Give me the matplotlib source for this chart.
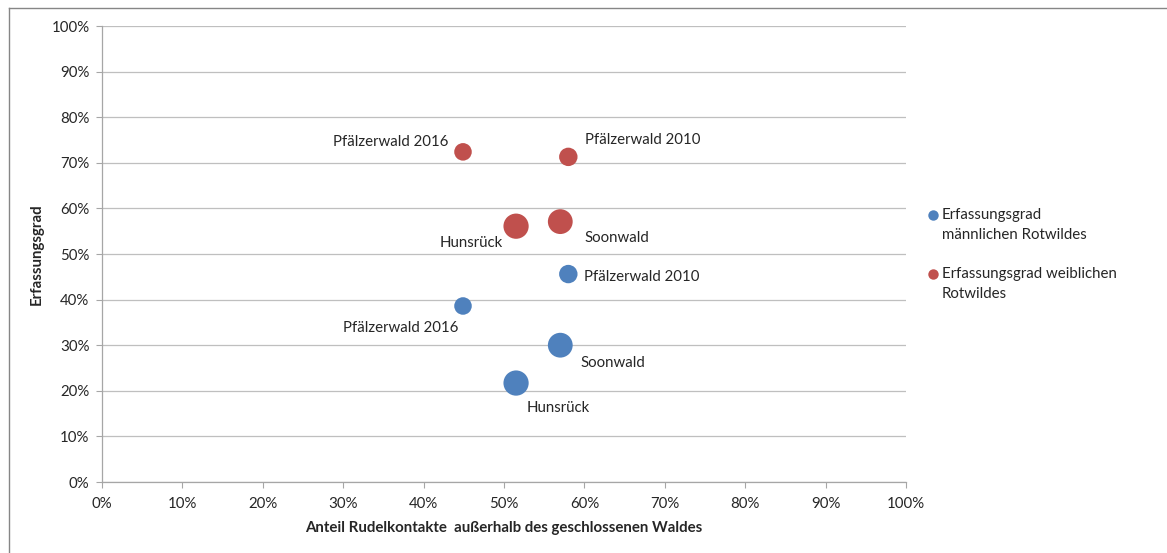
import matplotlib
matplotlib.use("Agg")
import matplotlib.pyplot as plt
from matplotlib.lines import Line2D
from matplotlib.ticker import PercentFormatter

plt.rcParams["font.family"] = ["Lato", "DejaVu Sans"]

# Daten
gebiete = ["Pfälzerwald 2016", "Pfälzerwald 2010", "Hunsrück", "Soonwald"]
anteil_aussen = [0.449, 0.580, 0.515, 0.570]       # x: Anteil Rudelkontakte ausserhalb
erfassung_maennlich = [0.386, 0.456, 0.217, 0.300]  # y blau
erfassung_weiblich = [0.724, 0.713, 0.561, 0.571]   # y rot
groesse = [1.45, 1.6, 3.0, 2.9]                    # Blasengroesse (relativ)

blau = "#4F81BD"
rot = "#C0504D"
grau = "#A6A6A6"
text_col = "#262626"
fs = 10.8

fig = plt.figure(figsize=(11.67, 5.53), dpi=100)
ax = fig.add_axes([102 / 1167, 1 - 482 / 553, 804 / 1167, 456 / 553])

s = [g * 110 for g in groesse]
ax.scatter(anteil_aussen, erfassung_maennlich, s=s, color=blau, zorder=3, linewidths=0)
ax.scatter(anteil_aussen, erfassung_weiblich, s=s, color=rot, zorder=3, linewidths=0)

# Beschriftungen: Versatz in Pixeln
off_weib = [(-15, 10, "right"), (17, 17, "left"), (-13, -17, "right"), (24, -16, "left")]
off_maen = [(-5, -22, "right"), (16, -3, "left"), (11, -25, "left"), (20, -18, "left")]
for i, name in enumerate(gebiete):
    dx, dy, ha = off_weib[i]
    ax.annotate(name, (anteil_aussen[i], erfassung_weiblich[i]), xytext=(dx, dy),
                textcoords="offset pixels", ha=ha, va="center", fontsize=fs, color=text_col)
    dx, dy, ha = off_maen[i]
    ax.annotate(name, (anteil_aussen[i], erfassung_maennlich[i]), xytext=(dx, dy),
                textcoords="offset pixels", ha=ha, va="center", fontsize=fs, color=text_col)

ax.set_xlim(0, 1)
ax.set_ylim(0, 1)
ax.set_xticks([i / 10 for i in range(11)])
ax.set_yticks([i / 10 for i in range(11)])
ax.xaxis.set_major_formatter(PercentFormatter(1.0, decimals=0))
ax.yaxis.set_major_formatter(PercentFormatter(1.0, decimals=0))
ax.tick_params(axis="both", colors=grau, labelcolor=text_col, labelsize=fs, length=4, width=0.8)
ax.tick_params(axis="x", pad=7)
ax.tick_params(axis="y", pad=5)
ax.grid(axis="y", color="#BFBFBF", linewidth=0.9)
ax.set_axisbelow(True)
for sp in ["top", "right"]:
    ax.spines[sp].set_visible(False)
for sp in ["left", "bottom"]:
    ax.spines[sp].set_color(grau)
    ax.spines[sp].set_linewidth(0.9)

ax.set_xlabel("Anteil Rudelkontakte  außerhalb des geschlossenen Waldes",
              fontsize=fs, fontweight="bold", color=text_col)
ax.xaxis.set_label_coords(0.5, -(528 - 482) / 456)
ax.set_ylabel("Erfassungsgrad", fontsize=fs, fontweight="bold", color=text_col)
ax.yaxis.set_label_coords(-(102 - 37) / 804, 0.5)
ax.yaxis.label.set_va("center")
ax.xaxis.label.set_va("center")

# Legende
leg = [("Erfassungsgrad\nmännlichen Rotwildes", blau, 215),
       ("Erfassungsgrad weiblichen\nRotwildes", rot, 274)]
for label, col, ypx in leg:
    fig.add_artist(Line2D([933 / 1167], [1 - ypx / 553], marker="o", markersize=7.5,
                          color=col, markeredgewidth=0, transform=fig.transFigure))
    fig.text(942 / 1167, 1 - (ypx - 7) / 553, label, ha="left", va="top",
             fontsize=fs, color=text_col, linespacing=1.55)

# Rahmen links und oben
fig.add_artist(Line2D([9 / 1167, 9 / 1167], [0, 1 - 8 / 553], color="#868686",
                      linewidth=1, transform=fig.transFigure))
fig.add_artist(Line2D([9 / 1167, 1], [1 - 8 / 553, 1 - 8 / 553], color="#868686",
                      linewidth=1, transform=fig.transFigure))

fig.savefig("out.png", dpi=100)
